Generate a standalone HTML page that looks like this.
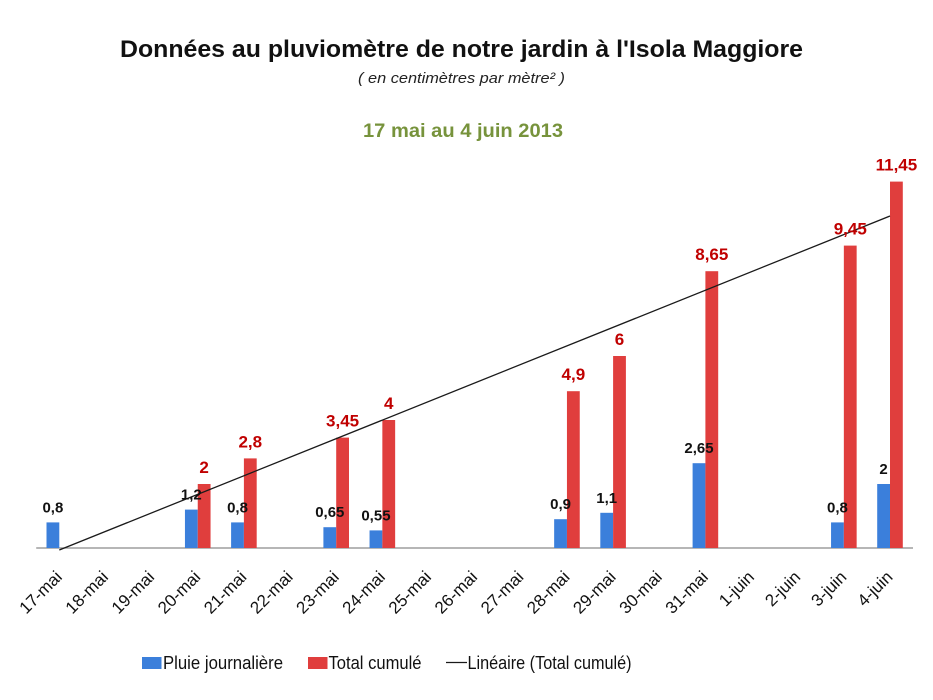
<!DOCTYPE html>
<html><head><meta charset="utf-8"><style>
html,body{margin:0;padding:0;background:#fff;}
svg{display:block;}
text{font-family:"Liberation Sans",sans-serif;}
</style></head><body>
<svg width="933" height="700" viewBox="0 0 933 700" xmlns="http://www.w3.org/2000/svg">
<rect width="933" height="700" fill="#fff"/>
<text x="120" y="57" font-size="24" font-weight="bold" fill="#111" textLength="683" lengthAdjust="spacingAndGlyphs">Données au pluviomètre de notre jardin à l'Isola Maggiore</text>
<text x="358" y="83" font-size="15" font-style="italic" fill="#222" textLength="207" lengthAdjust="spacingAndGlyphs">( en centimètres par mètre² )</text>
<text x="363" y="137" font-size="19" font-weight="bold" fill="#77933c" textLength="200" lengthAdjust="spacingAndGlyphs">17 mai au 4 juin 2013</text>

<line x1="36.2" y1="548" x2="913" y2="548" stroke="#8a8a8a" stroke-width="1.2"/>

<g fill="#3b7fdb">
<rect x="46.5" y="522.4" width="12.8" height="25.6"/>
<rect x="184.95" y="509.6" width="12.8" height="38.4"/>
<rect x="231.1" y="522.4" width="12.8" height="25.6"/>
<rect x="323.4" y="527.2" width="12.8" height="20.8"/>
<rect x="369.55" y="530.4" width="12.8" height="17.6"/>
<rect x="554.15" y="519.2" width="12.8" height="28.8"/>
<rect x="600.3" y="512.8" width="12.8" height="35.2"/>
<rect x="692.6" y="463.2" width="12.8" height="84.8"/>
<rect x="831.05" y="522.4" width="12.8" height="25.6"/>
<rect x="877.2" y="484" width="12.8" height="64"/>
</g>
<g fill="#e03e3d">
<rect x="197.75" y="484" width="12.8" height="64"/>
<rect x="243.9" y="458.4" width="12.8" height="89.6"/>
<rect x="336.2" y="437.6" width="12.8" height="110.4"/>
<rect x="382.35" y="420" width="12.8" height="128"/>
<rect x="566.95" y="391.2" width="12.8" height="156.8"/>
<rect x="613.1" y="356" width="12.8" height="192"/>
<rect x="705.4" y="271.2" width="12.8" height="276.8"/>
<rect x="843.85" y="245.6" width="12.8" height="302.4"/>
<rect x="890" y="181.6" width="12.8" height="366.4"/>
</g>

<line x1="59.3" y1="550" x2="890" y2="216" stroke="#1a1a1a" stroke-width="1.3"/>

<g font-size="15" font-weight="bold" fill="#111" text-anchor="middle">
<text x="52.9" y="512.4">0,8</text>
<text x="191.35" y="499.6">1,2</text>
<text x="237.5" y="512.4">0,8</text>
<text x="329.8" y="517.2">0,65</text>
<text x="375.95" y="520.4">0,55</text>
<text x="560.55" y="509.2">0,9</text>
<text x="606.7" y="502.8">1,1</text>
<text x="699" y="453.2">2,65</text>
<text x="837.45" y="512.4">0,8</text>
<text x="883.6" y="474">2</text>
</g>
<g font-size="17" font-weight="bold" fill="#c00000" text-anchor="middle">
<text x="204.15" y="473">2</text>
<text x="250.3" y="447.4">2,8</text>
<text x="342.6" y="426.6">3,45</text>
<text x="388.75" y="409">4</text>
<text x="573.35" y="380.2">4,9</text>
<text x="619.5" y="345">6</text>
<text x="711.8" y="260.2">8,65</text>
<text x="850.25" y="234.6">9,45</text>
<text x="896.4" y="170.6">11,45</text>
</g>

<g font-size="17" fill="#111" text-anchor="end">
<text transform="translate(63,578) rotate(-45)">17-mai</text>
<text transform="translate(109.15,578) rotate(-45)">18-mai</text>
<text transform="translate(155.3,578) rotate(-45)">19-mai</text>
<text transform="translate(201.45,578) rotate(-45)">20-mai</text>
<text transform="translate(247.6,578) rotate(-45)">21-mai</text>
<text transform="translate(293.75,578) rotate(-45)">22-mai</text>
<text transform="translate(339.9,578) rotate(-45)">23-mai</text>
<text transform="translate(386.05,578) rotate(-45)">24-mai</text>
<text transform="translate(432.2,578) rotate(-45)">25-mai</text>
<text transform="translate(478.35,578) rotate(-45)">26-mai</text>
<text transform="translate(524.5,578) rotate(-45)">27-mai</text>
<text transform="translate(570.65,578) rotate(-45)">28-mai</text>
<text transform="translate(616.8,578) rotate(-45)">29-mai</text>
<text transform="translate(662.95,578) rotate(-45)">30-mai</text>
<text transform="translate(709.1,578) rotate(-45)">31-mai</text>
<text transform="translate(755.25,578) rotate(-45)">1-juin</text>
<text transform="translate(801.4,578) rotate(-45)">2-juin</text>
<text transform="translate(847.55,578) rotate(-45)">3-juin</text>
<text transform="translate(893.7,578) rotate(-45)">4-juin</text>
</g>

<rect x="142" y="657" width="19.5" height="12" fill="#3b7fdb"/>
<text x="163" y="669" font-size="18" fill="#111" textLength="120" lengthAdjust="spacingAndGlyphs">Pluie journalière</text>
<rect x="308" y="657" width="19.5" height="12" fill="#e03e3d"/>
<text x="328.5" y="669" font-size="18" fill="#111" textLength="93" lengthAdjust="spacingAndGlyphs">Total cumulé</text>
<line x1="446" y1="662.5" x2="467" y2="662.5" stroke="#1a1a1a" stroke-width="1.3"/>
<text x="467.5" y="669" font-size="18" fill="#111" textLength="164" lengthAdjust="spacingAndGlyphs">Linéaire (Total cumulé)</text>
</svg>
</body></html>
